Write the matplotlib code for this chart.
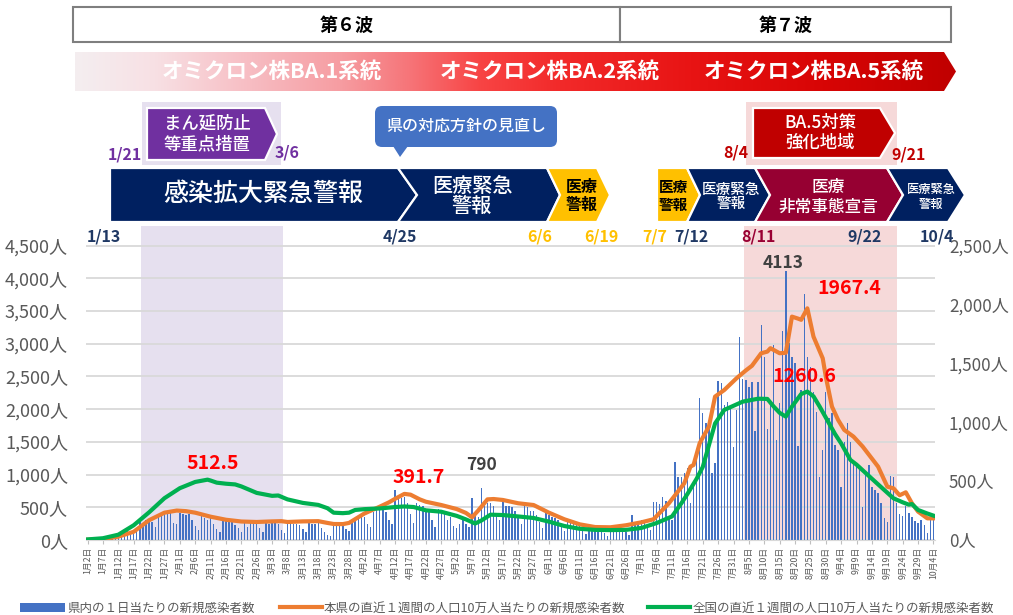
import numpy as np
import pandas as pd
import matplotlib
matplotlib.use('Agg')
import matplotlib.pyplot as plt
from matplotlib.patches import Polygon, Rectangle, FancyBboxPatch
from matplotlib.colors import LinearSegmentedColormap

plt.rcParams['font.family'] = ['Noto Sans CJK JP', 'DejaVu Sans']

# ---- data -------------------------------------------------------------
start = pd.Timestamp('2022-01-02')
dates = pd.date_range(start, '2022-10-04')

# daily new cases in the prefecture (left axis)
jan = [2, 3, 5, 8, 12, 20, 25, 30, 25, 45, 70, 90, 110, 130, 120, 90, 170, 340, 260, 300,
       320, 270, 200, 360, 390, 400, 420, 430, 260, 250]
feb = [420, 400, 380, 390, 300, 210, 150, 380, 330, 300, 330, 250, 170, 120, 330, 310, 290, 280,
       230, 180, 120, 300, 200, 290, 270, 250, 180, 120]
mar = [260, 250, 270, 300, 240, 160, 100, 250, 260, 240, 250, 230, 170, 120, 260, 250, 250, 260,
       180, 120, 80, 60, 230, 260, 240, 230, 170, 130, 300, 330, 350]
apr = [380, 350, 250, 200, 430, 480, 500, 520, 430, 300, 250, 760, 620, 640, 650, 560, 400, 260,
       560, 540, 520, 480, 430, 300, 200, 480, 450, 430, 300, 350]
may = [220, 180, 250, 300, 250, 200, 640, 420, 350, 790, 600, 560, 560, 520, 420, 300, 580, 520,
       520, 500, 450, 350, 250, 540, 500, 450, 440, 380, 280, 180, 420]
jun = [380, 350, 330, 300, 200, 130, 300, 280, 260, 240, 220, 150, 90, 200, 190, 180, 170, 160,
       110, 60, 180, 170, 190, 180, 170, 120, 70, 380, 250, 260]
jul = [300, 280, 200, 150, 580, 580, 550, 660, 600, 350, 300, 1200, 960, 970, 1020, 1100, 560,
       870, 1250, 2170, 1940, 1790, 1820, 1030, 1170, 2430, 2400, 2060, 2115, 2040, 1420]
aug = [1990, 3110, 2460, 2450, 2345, 2410, 1660, 2420, 3290, 2800, 1700, 2090, 2980, 1530, 2090,
       3190, 4113, 3010, 2800, 2700, 1430, 2290, 3760, 2800, 2650, 2270, 1960, 970, 1380, 2270, 1860]
sep = [1937, 1452, 1376, 815, 1498, 1794, 1498, 1223, 1172, 1070, 509, 994, 1147, 815, 764, 714,
       561, 331, 280, 978, 958, 561, 397, 367, 520, 408, 347, 295, 255, 306]
oct_ = [229, 112, 306, 306]
cases = jan + feb + mar + apr + may + jun + jul + aug + sep + oct_

# weekly new cases per 100k, prefecture (right axis)
pref_dates = ['1/2', '1/7', '1/12', '1/17', '1/22', '1/27', '1/31', '2/3', '2/6', '2/11', '2/16',
              '2/21', '2/26', '3/3', '3/6', '3/8', '3/13', '3/18', '3/21', '3/23', '3/26', '3/28',
              '4/2', '4/7', '4/10', '4/12', '4/15', '4/17', '4/20', '4/22', '4/27', '5/2', '5/5',
              '5/7', '5/9', '5/12', '5/14', '5/17', '5/22', '5/27', '6/1', '6/6', '6/11', '6/16',
              '6/21', '6/26', '7/1', '7/5', '7/10', '7/15', '7/17', '7/18', '7/20', '7/23', '7/25',
              '7/28', '8/1', '8/4', '8/6', '8/9', '8/11', '8/12', '8/15', '8/17', '8/19', '8/21',
              '8/22', '8/24', '8/26', '8/29', '8/30', '9/1', '9/3', '9/5', '9/8', '9/11', '9/16',
              '9/19', '9/21', '9/23', '9/25', '9/27', '9/29', '10/2', '10/4']
pref_vals = [3, 8, 28, 70, 168, 232, 250, 245, 232, 198, 172, 157, 153, 158, 160, 153, 158, 160,
             145, 136, 135, 145, 225, 283, 320, 350, 391.7, 385, 345, 325, 297, 263, 230, 193, 250,
             345, 348, 340, 312, 297, 232, 176, 133, 110, 108, 125, 150, 176, 312, 482, 623, 637,
             822, 963, 1218, 1274, 1374, 1440, 1480, 1586, 1600, 1629, 1586, 1590, 1897, 1880,
             1870, 1967.4, 1727, 1543, 1388, 1133, 1020, 935, 878, 793, 623, 453, 439, 380, 405,
             312, 241, 184, 184]

# weekly new cases per 100k, whole country (right axis)
nat_dates = ['1/2', '1/7', '1/12', '1/17', '1/22', '1/27', '2/1', '2/6', '2/10', '2/11', '2/13',
             '2/16', '2/19', '2/21', '2/26', '3/3', '3/5', '3/8', '3/13', '3/18', '3/21', '3/23',
             '3/26', '3/28', '3/30', '4/2', '4/7', '4/12', '4/15', '4/18', '4/22', '4/27', '5/2',
             '5/5', '5/8', '5/10', '5/13', '5/17', '5/22', '5/27', '6/1', '6/6', '6/11', '6/16',
             '6/21', '6/26', '7/1', '7/6', '7/11', '7/14', '7/16', '7/19', '7/21', '7/25', '7/28',
             '7/31', '8/3', '8/8', '8/11', '8/13', '8/15', '8/17', '8/19', '8/22', '8/24', '8/26',
             '8/28', '8/30', '9/2', '9/4', '9/7', '9/9', '9/14', '9/18', '9/21', '9/24', '9/26',
             '9/27', '9/29', '10/2', '10/4']
nat_vals = [5, 15, 45, 125, 235, 355, 440, 493, 512.5, 505, 487, 478, 472, 455, 400, 375, 378,
            345, 315, 298, 270, 232, 228, 232, 255, 262, 268, 280, 285, 280, 252, 240, 205, 175,
            140, 165, 215, 212, 200, 187, 156, 119, 95, 86, 84, 86, 102, 144, 200, 310, 390, 520,
            620, 990, 1105, 1140, 1175, 1200, 1198, 1135, 1080, 1048, 1133, 1240, 1260.6, 1220,
            1133, 1040, 900, 820, 680, 640, 520, 425, 354, 320, 300, 305, 255, 225, 207]


def day(s):
    return (pd.Timestamp('2022/' + s) - start).days


x = np.arange(len(dates))
pref_x = [day(d) for d in pref_dates]
nat_x = [day(d) for d in nat_dates]

# ---- figure -----------------------------------------------------------
W, H = 1013, 615
fig = plt.figure(figsize=(W / 100, H / 100), dpi=100)
ax = fig.add_axes([86 / W, 1 - 540 / H, (935 - 86) / W, (540 - 226) / H])
ax2 = ax.twinx()

ax.set_xlim(-0.5, len(dates) - 0.5)
ax.set_ylim(0, 4800)
ax2.set_ylim(0, 4800 * 2500 / 4500)

ax.axvspan(day('1/21') - 1.5, day('3/6') + 0.5, color='#e6e0ef', lw=0, zorder=0)
ax.axvspan(day('8/4') - 0.5, day('9/21') + 1.0, color='#f6d9d9', lw=0, zorder=0)

ax.set_axisbelow(True)
ax.yaxis.grid(True, color='#d9d9d9', lw=1.3)
ax.bar(x, cases, width=0.45, color='#4472c4', zorder=2)

ax2.plot(pref_x, pref_vals, color='#ed7d31', lw=3, solid_joinstyle='round', zorder=3)
ax2.plot(nat_x, nat_vals, color='#00b050', lw=3, solid_joinstyle='round', zorder=4)

for a in (ax, ax2):
    for s in a.spines.values():
        s.set_visible(False)
ax.spines['bottom'].set_visible(True)
ax.spines['bottom'].set_color('#d9d9d9')

ax.set_yticks(range(0, 4501, 500))
ax.set_yticklabels([f'{v:,}人' for v in range(0, 4501, 500)])
ax.tick_params(axis='y', length=0, pad=13, labelsize=13, labelcolor='#595959')
ax2.set_yticks(range(0, 2501, 500))
ax2.set_yticklabels([f'{v:,}人' for v in range(0, 2501, 500)])
ax2.tick_params(axis='y', length=0, pad=10, labelsize=12.3, labelcolor='#595959')

xt = x[::5]
ax.set_xticks(xt)
ax.set_xticklabels([f'{dates[i].month}月{dates[i].day}日' for i in xt], rotation=90)
ax.tick_params(axis='x', length=3, color='#bfbfbf', pad=2, labelsize=6.3, labelcolor='#595959')

# peak annotations
red = dict(color='#ff0000', fontsize=14, fontweight='bold', ha='center', va='center',
           textcoords='offset points', zorder=10)
gray = dict(color='#404040', fontsize=12.5, fontweight='bold', ha='center', va='center',
            textcoords='offset points', zorder=10)
i = nat_vals.index(512.5)
ax2.annotate('512.5', (nat_x[i], nat_vals[i]), xytext=(4, 11.5), **red)
i = pref_vals.index(391.7)
ax2.annotate('391.7', (pref_x[i], pref_vals[i]), xytext=(10, 11.5), **red)
i = pref_vals.index(1967.4)
ax2.annotate('1967.4', (pref_x[i], pref_vals[i]), xytext=(30, 14), **red)
i = nat_vals.index(1260.6)
ax2.annotate('1260.6', (nat_x[i], nat_vals[i]), xytext=(-2, 11), **red)
i = cases.index(790)
ax.annotate('790', (x[i], 790), xytext=(0, 17), **gray)
i = cases.index(4113)
ax.annotate('4113', (x[i], 4113), xytext=(-2, 6), **gray)

# ---- header graphics (pixel coordinates) ------------------------------
deco = fig.add_axes([0, 0, 1, 1], zorder=10)
deco.patch.set_alpha(0)
deco.axis('off')

# wave boxes
for x0, x1, t in [(73, 620, '第６波'), (620, 951, '第７波')]:
    deco.add_patch(Rectangle((x0, 7), x1 - x0, 35, facecolor='white', edgecolor='#7f7f7f', lw=1.5))
    deco.text((x0 + x1) / 2, 25, t, ha='center', va='center', fontsize=13, fontweight='bold')

# gradient variant arrow
cmap = LinearSegmentedColormap.from_list('g', [
    (0, '#f4eef0'), (0.09, '#f8e0e4'), (0.2, '#f7bcc2'), (0.3, '#f69da2'), (0.38, '#f67478'),
    (0.46, '#f84444'), (0.55, '#f22a2a'), (0.7, '#e81414'), (0.85, '#d80505'), (1, '#c00000')])
grad = np.linspace(0, 1, 512).reshape(1, -1)
im = deco.imshow(grad, cmap=cmap, extent=(75, 956, 91, 52), aspect='auto', interpolation='bicubic')
clip = Polygon([(75, 52), (944, 52), (956, 71.5), (944, 91), (75, 91)], facecolor='none',
               edgecolor='none')
deco.add_patch(clip)
im.set_clip_path(clip)
for cx, t in [(272, 'オミクロン株BA.1系統'), (550, 'オミクロン株BA.2系統'), (814, 'オミクロン株BA.5系統')]:
    deco.text(cx, 71, t, ha='center', va='center', fontsize=15.5, fontweight='bold', color='white')


def shape(x0, x1, tip, notch=0, y0=168, y1=222, **kw):
    ym = (y0 + y1) / 2
    pts = [(x0, y0), (x1, y0), (tip, ym), (x1, y1), (x0, y1)]
    if notch:
        pts.append((x0 + notch, ym))
    deco.add_patch(Polygon(pts, closed=True, edgecolor='white', lw=1.6, **kw))


# purple measure box
deco.add_patch(Rectangle((142, 102), 139, 63, facecolor='#e6e0ef', lw=0))
shape(147, 265, 277, y0=108, y1=160, facecolor='#7030a0')
deco.text(207, 134, 'まん延防止\n等重点措置', ha='center', va='center', fontsize=12.5,
          color='white', linespacing=1.15, fontweight='medium')

# BA.5 box
deco.add_patch(Rectangle((746, 102), 151, 63, facecolor='#f6d9d9', lw=0))
shape(753, 880, 895, y0=108, y1=158, facecolor='#c00000')
deco.text(820, 133, 'BA.5対策\n強化地域', ha='center', va='center', fontsize=12.5,
          color='white', linespacing=1.15, fontweight='medium')

# callout
deco.add_patch(FancyBboxPatch((375, 106), 182, 41, boxstyle='round,pad=0,rounding_size=7',
                              facecolor='#4472c4', lw=0))
deco.add_patch(Polygon([(393, 146), (408, 146), (400, 157)], facecolor='#4472c4', lw=0))
deco.text(466, 126, '県の対応方針の見直し', ha='center', va='center', fontsize=11.5, color='white',
          fontweight='medium')

# alert chevrons
navy, gold, maroon = '#002060', '#ffc000', '#960032'
shape(110, 398, 417, facecolor=navy)
shape(398, 547, 560, notch=19, facecolor=navy)
shape(547, 597, 610, notch=13, facecolor=gold)
shape(657, 687, 700, facecolor=gold)
shape(687, 755, 770, notch=13, facecolor=navy)
shape(755, 887, 903, notch=15, facecolor=maroon)
shape(887, 948, 965, notch=16, facecolor=navy)

wt = dict(ha='center', va='center', color='white', fontweight='medium')
deco.text(263, 194, '感染拡大緊急警報', fontsize=18, **wt)
deco.text(472, 196, '医療緊急\n警報', fontsize=14.5, linespacing=1.05, **wt)
deco.text(582, 196, '医療\n警報', ha='center', va='center', fontsize=11.5, color='black',
          fontweight='bold', linespacing=1.1)
deco.text(673, 196, '医療\n警報', ha='center', va='center', fontsize=10.5, color='black',
          fontweight='bold', linespacing=1.1)
deco.text(731, 197, '医療緊急\n警報', fontsize=10.5, linespacing=1.05, **wt)
deco.text(828, 197, '医療\n非常事態宣言', fontsize=12, linespacing=1.1, **wt)
deco.text(931, 197, '医療緊急\n警報', fontsize=8.8, linespacing=1.1, **wt)

# date labels
dl = dict(ha='center', va='center', fontsize=11.5, fontweight='bold')
for cx, cy, t, c in [(125, 154, '1/21', '#7030a0'), (287, 152, '3/6', '#7030a0'),
                     (736, 153, '8/4', '#c00000'), (909, 155, '9/21', '#c00000'),
                     (104, 237, '1/13', '#1f3864'), (400, 237, '4/25', '#1f3864'),
                     (540, 237, '6/6', '#ffc000'), (601, 237, '6/19', '#ffc000'),
                     (655, 237, '7/7', '#ffc000'), (691, 237, '7/12', '#1f3864'),
                     (758, 237, '8/11', '#990033'), (865, 237, '9/22', '#1f3864'),
                     (937, 237, '10/4', '#1f3864')]:
    deco.text(cx, cy, t, color=c, **dl)

# legend
deco.add_patch(Rectangle((20, 603), 45, 9, facecolor='#4472c4', lw=0))
deco.plot([280, 322], [607, 607], color='#ed7d31', lw=3)
deco.plot([648, 690], [607, 607], color='#00b050', lw=3)
lg = dict(ha='left', va='center', fontsize=9.0, color='#595959')
deco.text(67, 608, '県内の１日当たりの新規感染者数', **lg)
deco.text(324, 608, '本県の直近１週間の人口10万人当たりの新規感染者数', **lg)
deco.text(693, 608, '全国の直近１週間の人口10万人当たりの新規感染者数', **lg)

deco.set_xlim(0, W)
deco.set_ylim(H, 0)

fig.savefig('out.png', dpi=100)
